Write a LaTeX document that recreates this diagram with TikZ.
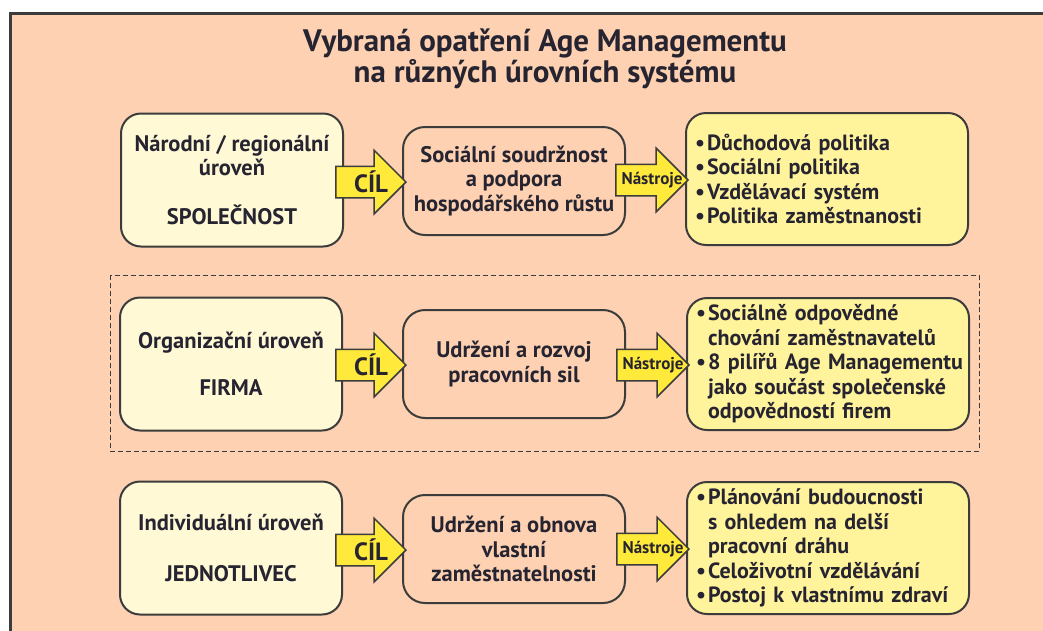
\documentclass[tikz,border=0pt]{standalone}
\usepackage{fontspec}
\setmainfont{PT Sans}
\usetikzlibrary{shapes.arrows,calc}
\definecolor{peach}{RGB}{253,209,177}
\definecolor{cream}{RGB}{255,249,214}
\definecolor{lemon}{RGB}{255,243,156}
\definecolor{arrowyellow}{RGB}{255,233,58}
\definecolor{ink}{RGB}{38,36,48}
\definecolor{edge}{RGB}{60,60,60}
\newcommand{\blt}{\hspace*{5pt}\makebox[12pt][l]{\textbullet}}
\newcommand{\hng}{\hspace*{17pt}}

\begin{document}
\begin{tikzpicture}[x=1pt,y=-1pt,
  every node/.style={text=ink,font=\bfseries\fontsize{22.5}{24.5}\selectfont},
  levelbox/.style={draw=edge,line width=2pt,fill=cream,rounded corners=20pt,minimum width=222pt,minimum height=133pt,align=center,inner sep=0pt},
  goalbox/.style={draw=edge,line width=2pt,fill=peach,rounded corners=22pt,minimum width=222pt,minimum height=108pt,align=center,inner sep=0pt},
  toolbox/.style={draw=edge,line width=2pt,fill=lemon,rounded corners=20pt,minimum height=132pt,text width=274pt,inner xsep=4pt,inner ysep=0pt,align=left,font=\bfseries\fontsize{22}{24.5}\selectfont},
  blockarrow/.style={single arrow,draw=edge,line width=1.5pt,fill=arrowyellow,inner xsep=0pt,inner ysep=15pt,single arrow head extend=16pt,minimum height=#1}]
    \useasboundingbox(0,0)rectangle(1043,630);
	\fill[peach](10,13)rectangle(1060,650);
	\draw[edge,line width=3pt](1060,13)--(10,13)--(10,650);
	\draw[edge,line width=1pt,dash pattern=on 5pt off 3pt](110,275)rectangle(979,451);
	\node[font=\bfseries\fontsize{31}{28.5}\selectfont,align=center,inner sep=0pt](title)at(545,59){Vybraná opatření Age Managementu\\na různých úrovních systému};
	\node[levelbox](l1)at(232,180){Národní / regionální\\úroveň\\[24pt]SPOLEČNOST};
	\node[levelbox](l2)at(231,364){Organizační úroveň\\[23pt]FIRMA};
	\node[levelbox](l3)at(231,548){Individuální úroveň\\[26pt]JEDNOTLIVEC};
	\node[goalbox](m1)at(514,181){Sociální soudržnost\\a podpora\\hospodářského růstu};
	\node[goalbox](m2)at(514,364){Udržení a rozvoj\\pracovních sil};
	\node[goalbox](m3)at(514,549){Udržení a obnova\\vlastní\\zaměstnatelnosti};
	\node[toolbox](t1)at(827,179){\blt Důchodová politika\\\blt Sociální politika\\\blt Vzdělávací systém\\\blt Politika zaměstnanosti};
	\node[toolbox](t2)at(828,364){\blt Sociálně odpovědné\\\hng chování zaměstnavatelů\\\blt 8 pilířů Age Managementu\\\hng jako součást společenské\\\hng odpovědností firem};
	\node[toolbox](t3)at(828,548){\blt Plánování budoucnosti\\\hng s ohledem na delší\\\hng pracovní dráhu\\\blt Celoživotní vzdělávání\\\blt Postoj k vlastnímu zdraví};
	\foreach \r in{1,2,3}
	{\node[blockarrow=70pt,anchor=tip](c\r)at($(m\r.west)+(5,1)$){};
	 \node[font=\bfseries\fontsize{25}{25}\selectfont,inner sep=0pt](cl\r)at($(c\r.tail)!.5!(c\r.tip)$){CÍL};
	 \node[blockarrow=72pt,anchor=tip](n\r)at($(t\r.west)+(4,1)$){};
	 \node[font=\bfseries\fontsize{17}{17}\selectfont,inner sep=0pt](nl\r)at($(n\r.tail)!.5!(n\r.tip)$){Nástroje};
	}
\end{tikzpicture}
\end{document}
